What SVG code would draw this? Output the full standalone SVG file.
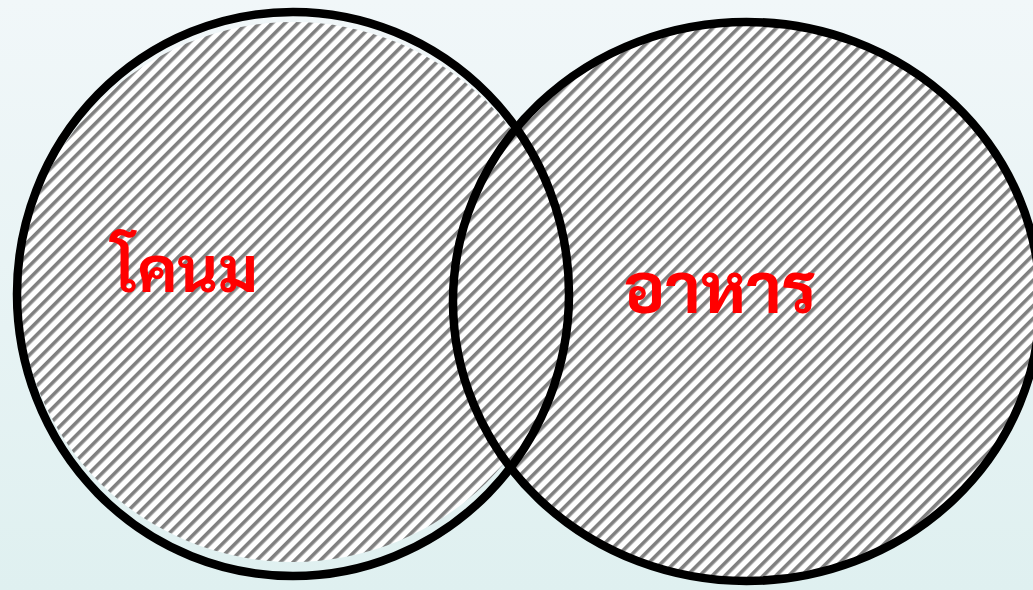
<svg xmlns="http://www.w3.org/2000/svg" width="1033" height="590" viewBox="0 0 1033 590">
  <defs>
    <linearGradient id="bg" x1="0" y1="0" x2="0" y2="1">
      <stop offset="0" stop-color="#f1f7f9"/>
      <stop offset="1" stop-color="#dff0f0"/>
    </linearGradient>
    <pattern id="hatch" patternUnits="userSpaceOnUse" width="9" height="10" patternTransform="rotate(45)">
      <rect width="9" height="10" fill="#ffffff"/>
      <rect width="3.6" height="10" fill="#808080"/>
    </pattern>
    <style>
      .fill { fill: url(#hatch); stroke: none; }
      .outline { fill: none; stroke: #000000; stroke-width: 8.5; }
      .label { fill: #ff0000; font-family: "Tahoma", "Leelawadee UI", "Sarabun", "TH Sarabun New", "Waree", "Norasi", "Umpush", "Noto Sans Thai Looped", "Noto Serif Thai", "Noto Sans", sans-serif; font-weight: bold; text-anchor: middle; }
    </style>
  </defs>
  <rect width="1033" height="590" fill="url(#bg)"/>
  <g id="fills">
    <ellipse class="fill" cx="293" cy="292" rx="273" ry="270"/>
    <ellipse class="fill" cx="746.5" cy="301.5" rx="293.5" ry="279.5"/>
  </g>
  <g id="node-left">
    <ellipse class="outline" cx="293" cy="294" rx="276" ry="282"/>
    <text class="label" x="185" y="292" font-size="63">โคนม</text>
  </g>
  <g id="node-right">
    <ellipse class="outline" cx="746.5" cy="301.5" rx="293.5" ry="279.5"/>
    <text class="label" x="720" y="313" font-size="70">อาหาร</text>
  </g>
  <g id="connectors"/>
</svg>
